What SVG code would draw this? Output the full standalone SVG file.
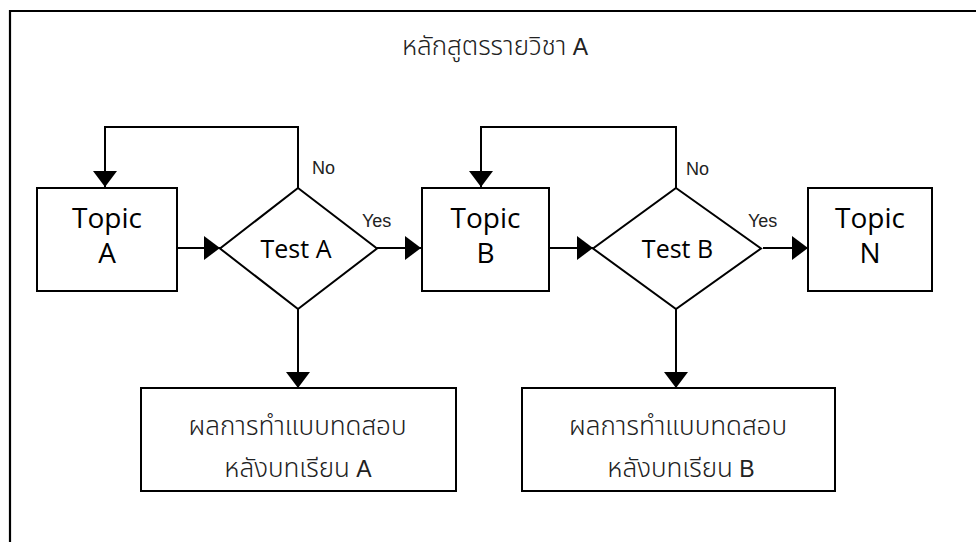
<svg xmlns="http://www.w3.org/2000/svg" width="976" height="542" viewBox="0 0 976 542">
<style>
.shape{fill:#fff;stroke:#000;stroke-width:2}
.frame{fill:none;stroke:#000;stroke-width:2.2}
.conn{fill:none;stroke:#000;stroke-width:2}
.big{font-family:"Open Sans","Noto Sans",sans-serif;font-size:28px;fill:#000;text-anchor:middle}
.test{font-family:"Open Sans","Noto Sans",sans-serif;font-size:25px;fill:#000;text-anchor:middle}
.lbl{font-family:"Liberation Sans",Arial,sans-serif;font-size:18px;fill:#222}
.thai{font-family:"Noto Sans Thai","Loma","Garuda","Tlwg Typo","Liberation Sans",sans-serif;font-size:26px;font-weight:300;fill:#222;text-anchor:middle}
.lat{font-family:"Liberation Sans",Arial,sans-serif;font-size:23px;font-weight:normal}
</style>
<defs>
<marker id="ah" markerUnits="userSpaceOnUse" markerWidth="16" markerHeight="24" refX="16" refY="12" orient="auto">
<path d="M0,0 L16,12 L0,24 z" fill="#000"/>
</marker>
</defs>
<path class="frame" d="M10,542 V11 H976"/>
<text id="title" class="thai" x="495" y="55">หลักสูตรรายวิชา<tspan class="lat"> A</tspan></text>
<g id="connectors">
<path class="conn" d="M298,188 V127 H105 V187" marker-end="url(#ah)"/>
<path class="conn" d="M177,248 H220" marker-end="url(#ah)"/>
<path class="conn" d="M377,248 H421" marker-end="url(#ah)"/>
<path class="conn" d="M676,188 V127 H481 V187" marker-end="url(#ah)"/>
<path class="conn" d="M549,248 H593" marker-end="url(#ah)"/>
<path class="conn" d="M763,248 H808" marker-end="url(#ah)"/>
<path class="conn" d="M298,309 V388" marker-end="url(#ah)"/>
<path class="conn" d="M676,309 V388" marker-end="url(#ah)"/>
<text class="lbl" x="312" y="174">No</text>
<text class="lbl" x="362" y="227">Yes</text>
<text class="lbl" x="686" y="175">No</text>
<text class="lbl" x="748" y="227">Yes</text>
</g>
<g id="topicA">
<rect class="shape" x="37" y="188" width="140" height="103"/>
<text class="big" x="107" y="228">Topic</text>
<text class="big" x="107" y="263">A</text>
</g>
<g id="testA">
<polygon class="shape" points="298,188 377,248.5 298,309 220,248.5"/>
<text class="test" x="296" y="258">Test A</text>
</g>
<g id="topicB">
<rect class="shape" x="422" y="188" width="127" height="103"/>
<text class="big" x="485.5" y="228">Topic</text>
<text class="big" x="485.5" y="263">B</text>
</g>
<g id="testB">
<polygon class="shape" points="676,188 761,248.5 676,309 593,248.5"/>
<text class="test" x="677.5" y="258">Test B</text>
</g>
<g id="topicN">
<rect class="shape" x="808" y="188" width="124" height="103"/>
<text class="big" x="870" y="228">Topic</text>
<text class="big" x="870" y="263">N</text>
</g>
<g id="resultA">
<rect class="shape" x="141" y="388" width="315" height="103"/>
<text class="thai" x="297.5" y="435">ผลการทำแบบทดสอบ</text>
<text class="thai" x="298" y="477">หลังบทเรียน<tspan class="lat"> A</tspan></text>
</g>
<g id="resultB">
<rect class="shape" x="522" y="388" width="313" height="103"/>
<text class="thai" x="678" y="435">ผลการทำแบบทดสอบ</text>
<text class="thai" x="681" y="477">หลังบทเรียน<tspan class="lat"> B</tspan></text>
</g>
</svg>
